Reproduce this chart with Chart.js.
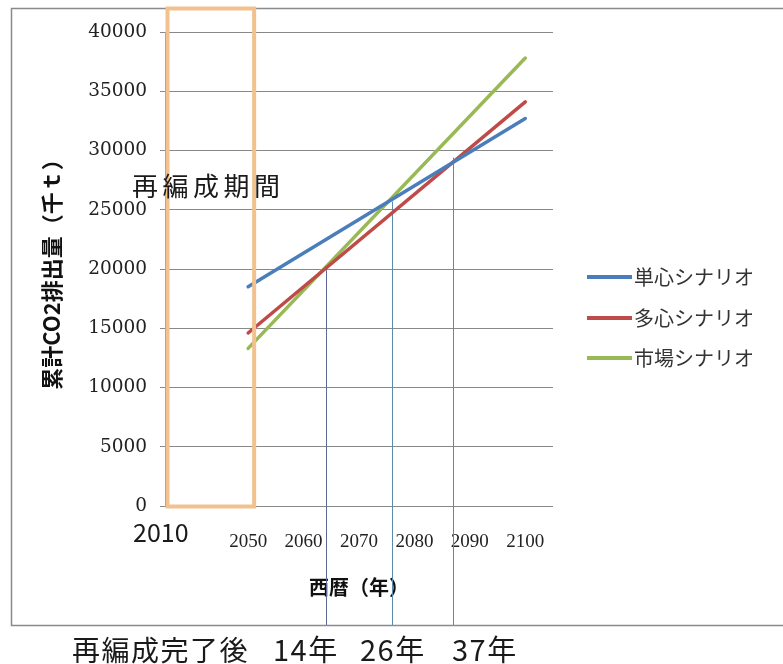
<!DOCTYPE html>
<html>
<head>
<meta charset="utf-8">
<script src="https://cdn.jsdelivr.net/npm/chart.js@4.4.1/dist/chart.umd.min.js"></script>
<style>
  html, body { margin: 0; padding: 0; background: #ffffff; }
  #wrap { width: 783px; height: 664px; }
</style>
</head>
<body>
<div id="wrap"><canvas id="chart" width="783" height="664"></canvas></div>
<script>
// Cumulative CO2 emissions by urban-structure scenario (thousand t)
const years = [2050, 2100];
const singleCenter = [18500, 32700];
const multiCenter = [14600, 34100];
const marketDriven = [13300, 37800];
const seriesLabels = ['単心シナリオ', '多心シナリオ', '市場シナリオ'];
const seriesColors = ['#4A7EBB', '#BE4B48', '#98B954'];

const xTickYears = [2050, 2060, 2070, 2080, 2090, 2100];
const yTickValues = [0, 5000, 10000, 15000, 20000, 25000, 30000, 35000, 40000];

// Years after restructuring is complete where the scenario lines cross
const completionYear = 2050;
const crossYearsAfter = [14, 26, 37];
const crossValues = [19900, 25700, 29400];
const crossLabels = ['14年', '26年', '37年'];

const JP = '"Noto Sans CJK JP", "Noto Sans", sans-serif';

const decor = {
  id: 'decor',
  beforeDraw(chart) {
    const ctx = chart.ctx;
    ctx.save();
    ctx.fillStyle = '#ffffff';
    ctx.fillRect(0, 0, chart.width, chart.height);
    // chart frame
    ctx.strokeStyle = '#8a8a8a';
    ctx.lineWidth = 1.5;
    ctx.beginPath();
    ctx.moveTo(chart.width + 2, 8.5);
    ctx.lineTo(11.5, 8.5);
    ctx.lineTo(11.5, 625.5);
    ctx.lineTo(chart.width + 2, 625.5);
    ctx.stroke();
    ctx.restore();
  },
  beforeDatasetsDraw(chart) {
    const ctx = chart.ctx;
    const xs = chart.scales.x, ys = chart.scales.y;
    ctx.save();
    crossYearsAfter.forEach((n, i) => {
      const px = Math.round(xs.getPixelForValue(completionYear + n)) + 0.5;
      const top = ys.getPixelForValue(crossValues[i]);
      ctx.strokeStyle = i === 0 ? '#5C6898' : '#5B8BAA';
      ctx.lineWidth = 1;
      ctx.beginPath();
      ctx.moveTo(px, top);
      ctx.lineTo(px, 625);
      ctx.stroke();
    });
    ctx.restore();
  },
  afterDatasetsDraw(chart) {
    const ctx = chart.ctx;
    const xs = chart.scales.x, ys = chart.scales.y;
    const area = chart.chartArea;
    ctx.save();
    // restructuring period box
    const left = area.left + 2.5;
    const right = xs.getPixelForValue(completionYear) + 6;
    const bottom = ys.getPixelForValue(0) + 0.5;
    ctx.strokeStyle = '#F2C18E';
    ctx.lineWidth = 4;
    ctx.strokeRect(left, 8.5, right - left, bottom - 8.5);

    ctx.fillStyle = '#1a1a1a';
    ctx.textBaseline = 'middle';
    ctx.textAlign = 'left';
    ctx.font = '26px ' + JP;
    ctx.letterSpacing = '4.5px';
    ctx.fillText('再編成期間', 132, 186);
    ctx.letterSpacing = '0px';

    ctx.font = '25px ' + JP;
    ctx.fillText('2010', 133, 532);

    // bottom captions
    ctx.font = '28px ' + JP;
    ctx.letterSpacing = '1.5px';
    ctx.fillText('再編成完了後', 72, 650);
    ctx.font = '29px ' + JP;
    ctx.letterSpacing = '1.5px';
    const labelLeft = [273, 360, 452];
    crossLabels.forEach((t, i) => ctx.fillText(t, labelLeft[i], 650));
    ctx.letterSpacing = '0px';
    ctx.restore();
  },
  afterDraw(chart) {
    const ctx = chart.ctx;
    ctx.save();
    ctx.font = '20px ' + JP;
    ctx.textBaseline = 'middle';
    ctx.textAlign = 'left';
    const rows = [277, 318, 358];
    chart.data.datasets.forEach((ds, i) => {
      ctx.strokeStyle = ds.borderColor;
      ctx.lineWidth = 4;
      ctx.lineCap = 'butt';
      ctx.beginPath();
      ctx.moveTo(587, rows[i]);
      ctx.lineTo(632, rows[i]);
      ctx.stroke();
      ctx.fillStyle = '#333333';
      ctx.fillText(ds.label, 634, rows[i]);
    });
    ctx.restore();
  }
};

const toPoints = (vals) => years.map((yr, i) => ({ x: yr, y: vals[i] }));

new Chart(document.getElementById('chart'), {
  type: 'line',
  data: {
    datasets: [singleCenter, multiCenter, marketDriven].map((vals, i) => ({
      label: seriesLabels[i],
      data: toPoints(vals),
      borderColor: seriesColors[i],
      backgroundColor: seriesColors[i],
      borderWidth: 3.5,
      borderCapStyle: 'round',
      pointRadius: 0,
      tension: 0,
      fill: false
    }))
  },
  options: {
    responsive: false,
    animation: false,
    devicePixelRatio: 1,
    layout: { padding: { left: 0, right: 230, top: 32, bottom: 58 } },
    plugins: { legend: { display: false }, tooltip: { enabled: false } },
    scales: {
      x: {
        type: 'linear',
        min: 2035,
        max: 2105,
        afterBuildTicks(scale) { scale.ticks = xTickYears.map(v => ({ value: v })); },
        afterFit(scale) { scale.height = 100; },
        grid: { display: false, drawTicks: false, tickLength: 0 },
        border: { display: false },
        ticks: {
          padding: 25,
          maxRotation: 0,
          autoSkip: false,
          color: '#222',
          font: { family: '"Liberation Serif", serif', size: 19 },
          callback: (v) => String(v)
        },
        title: {
          display: true,
          text: '西暦（年）',
          color: '#111',
          font: { family: JP, size: 20, weight: 'bold' },
          padding: { top: 0, bottom: 7 }
        }
      },
      y: {
        min: 0,
        max: 40000,
        afterBuildTicks(scale) { scale.ticks = yTickValues.map(v => ({ value: v })); },
        afterFit(scale) { scale.width = 165; },
        grid: { color: '#888888', lineWidth: 1, tickLength: 5, drawTicks: true },
        border: { display: true, color: '#888888' },
        ticks: {
          padding: 13,
          color: '#222',
          font: { family: '"DejaVu Serif", serif', size: 18.5 },
          callback: (v) => String(v)
        },
        title: {
          display: true,
          text: '累計CO2排出量（千ｔ）',
          color: '#111',
          font: { family: JP, size: 22, weight: 'bold' },
          padding: { top: 38, bottom: 0 }
        }
      }
    }
  },
  plugins: [decor]
});
</script>
</body>
</html>
